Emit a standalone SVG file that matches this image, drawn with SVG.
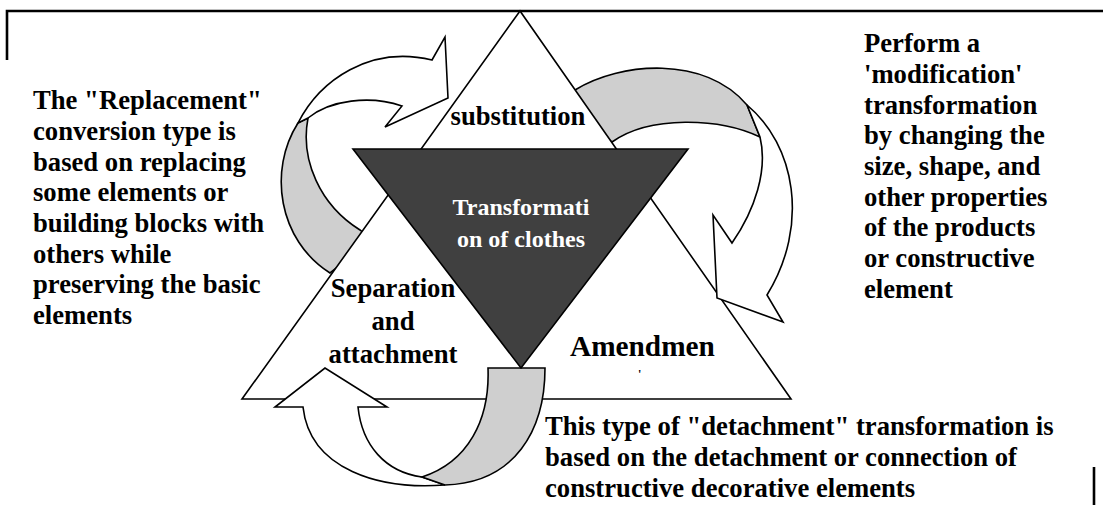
<svg xmlns="http://www.w3.org/2000/svg" width="1104" height="505" viewBox="0 0 1104 505">
<style>
.t{font-family:"Liberation Serif","Times New Roman",serif;font-weight:bold;font-size:26.67px;fill:#000}
.w{fill:#fff;stroke:#000;stroke-width:1.6;stroke-linejoin:miter}
.g{fill:#cfcfcf;stroke:#000;stroke-width:1.6;stroke-linejoin:miter}
.border{stroke:#000;stroke-width:2.6;fill:none}
</style>
<rect width="1104" height="505" fill="#fff"/>
<g id="frame">
<path class="border" d="M7,60 V11 H1103"/>
<path class="border" d="M1094,467 V505"/>
</g>
<g id="arrows-back">
<path class="g" d="M298,123 C268,170 278,240 330,273 L372,240 L360,230 C320,205 300,160 308,118 Z"/>
<path class="g" d="M565,112 L575,90 C620,62 705,55 747,105 L760,137 C720,118 650,115 612,142 Z"/>
</g>
<g id="outer-triangle">
<path class="w" d="M520,11 L242,399 L791,399 Z"/>
</g>
<g id="arrows-front">
<path class="w" d="M298,123 C320,80 370,45 432,60 L445,37 L448,98 L385,127 L402,106 C370,95 330,100 308,118 Z"/>
<path class="w" d="M747,105 C795,145 810,225 767,295 L783,322 L717,298 L713,215 L732,243 C755,210 768,170 760,137 Z"/>
<path class="w" d="M303,407 L275,407 L325,368 L387,407 L358,407 C362,445 385,472 422,477 L445,485 C380,490 310,470 303,407 Z"/>
<path class="g" d="M488,368 L545,368 C545,430 515,483 445,485 L422,477 C468,462 490,420 488,368 Z"/>
</g>
<g id="center-triangle">
<path d="M353,149 L688,149 L521,368 Z" fill="#404040" stroke="#000" stroke-width="1.6"/>
<text class="t" x="521" y="215" text-anchor="middle" style="font-size:24px;fill:#fff">Transformati</text>
<text class="t" x="521" y="247" text-anchor="middle" style="font-size:24px;fill:#fff">on of clothes</text>
</g>
<g id="node-substitution">
<text class="t" x="518" y="125" text-anchor="middle">substitution</text>
</g>
<g id="node-separation">
<text class="t" x="393" y="297" text-anchor="middle">Separation</text>
<text class="t" x="393" y="330" text-anchor="middle">and</text>
<text class="t" x="393" y="363" text-anchor="middle">attachment</text>
</g>
<g id="node-amendment">
<text class="t" x="570" y="356" style="font-size:29.3px">Amendmen</text>
<text class="t" x="638" y="378" style="font-size:12px">'</text>
</g>
<g id="note-replacement">
<text class="t" x="33" y="109">The "Replacement"</text>
<text class="t" x="33" y="140">conversion type is</text>
<text class="t" x="33" y="171">based on replacing</text>
<text class="t" x="33" y="201">some elements or</text>
<text class="t" x="33" y="232">building blocks with</text>
<text class="t" x="33" y="263">others while</text>
<text class="t" x="33" y="293">preserving the basic</text>
<text class="t" x="33" y="324">elements</text>
</g>
<g id="note-modification">
<text class="t" x="864" y="52">Perform a</text>
<text class="t" x="864" y="83">'modification'</text>
<text class="t" x="864" y="114">transformation</text>
<text class="t" x="864" y="144">by changing the</text>
<text class="t" x="864" y="175">size, shape, and</text>
<text class="t" x="864" y="206">other properties</text>
<text class="t" x="864" y="236">of the products</text>
<text class="t" x="864" y="267">or constructive</text>
<text class="t" x="864" y="298">element</text>
</g>
<g id="note-detachment">
<text class="t" x="545" y="435">This type of "detachment" transformation is</text>
<text class="t" x="545" y="466">based on the detachment or connection of</text>
<text class="t" x="545" y="497">constructive decorative elements</text>
</g>
</svg>
